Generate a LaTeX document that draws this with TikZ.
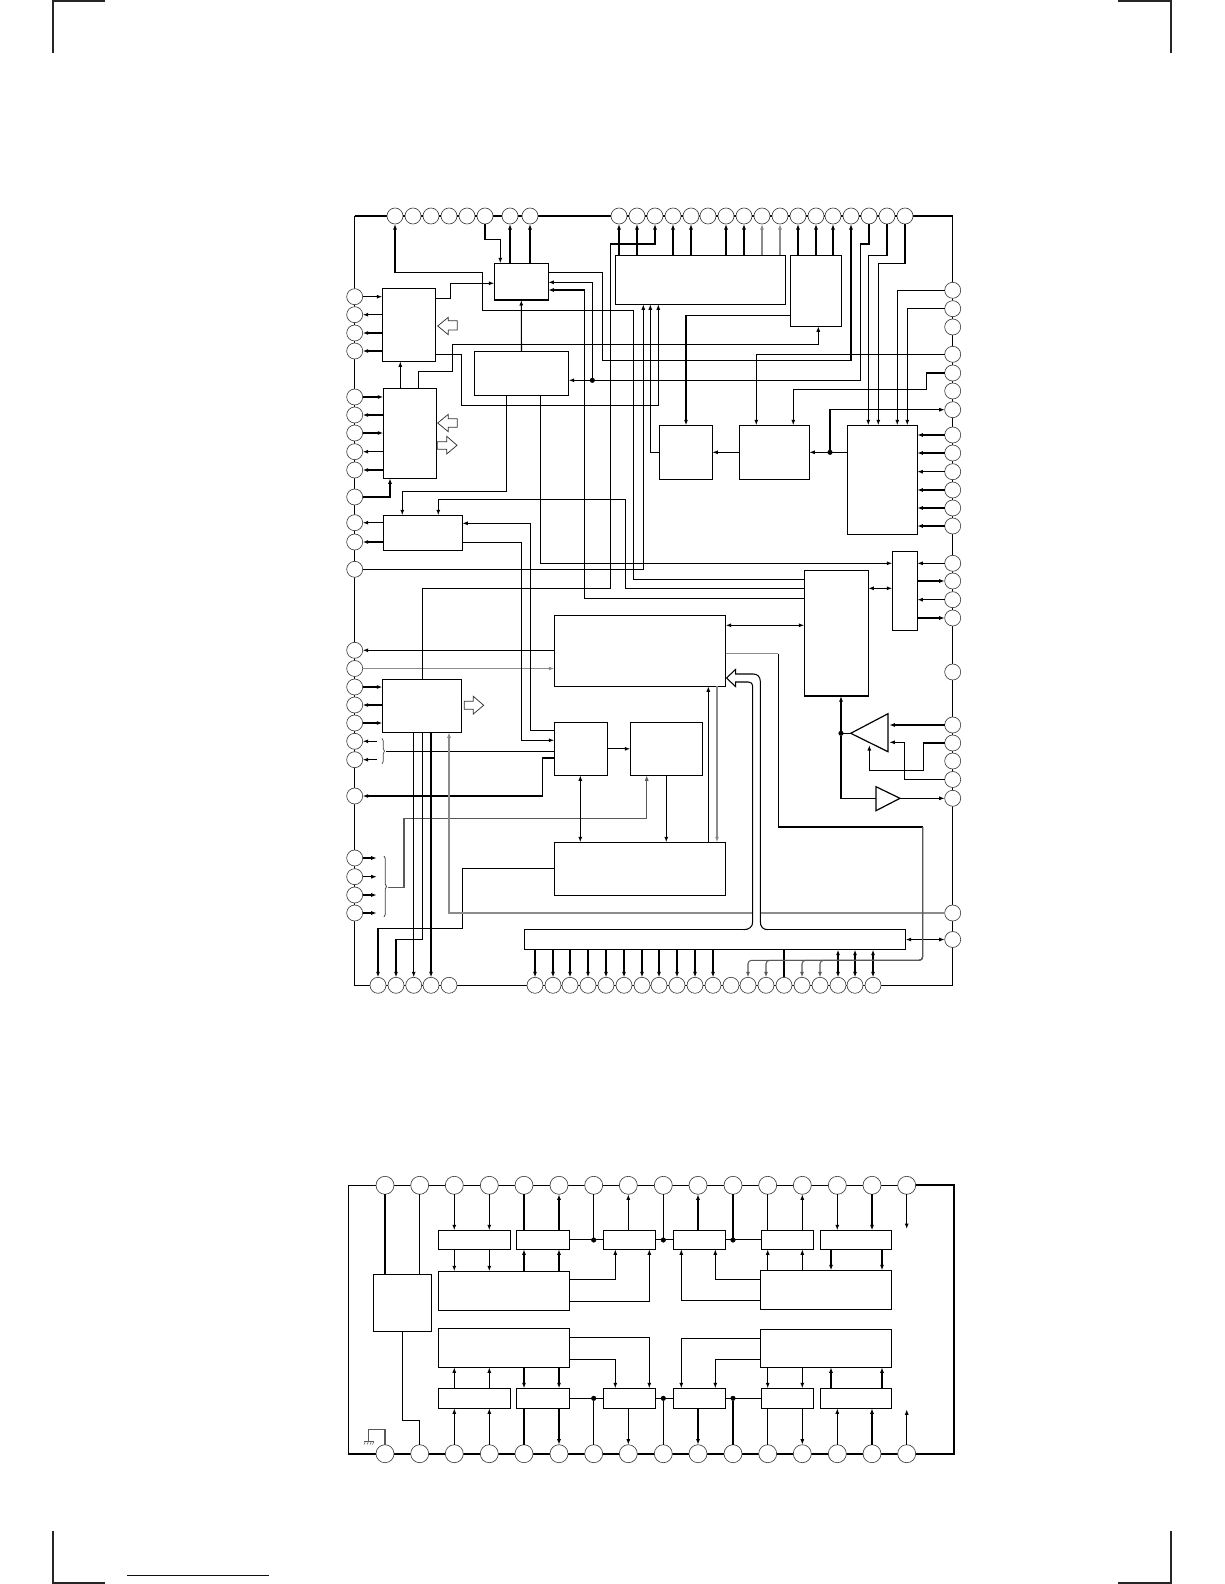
\documentclass[tikz,border=0pt]{standalone}
\usetikzlibrary{arrows.meta,fit,decorations.pathreplacing}
\definecolor{pagelink}{RGB}{0,0,130}
\tikzset{
    >={Latex[length=5.5pt,width=4pt]},
    wire/.style={line width=1.05pt,black},
    greywire/.style={line width=1.05pt,black!45},
    darkwire/.style={line width=1.05pt,black!65},
    blk/.style={draw,line width=1.05pt,inner sep=0pt,outer sep=0pt},
    pinc/.style={circle,draw=black!75,line width=0.65pt,fill=white,minimum size=16pt,inner sep=0pt,outer sep=0pt},
    pind/.style={circle,draw=black!75,line width=0.65pt,fill=white,minimum size=18pt,inner sep=0pt,outer sep=0pt},
    jdot/.style={circle,draw=black,fill=black,minimum size=4.6pt,inner sep=0pt,outer sep=0pt},
    hollow/.style={draw=black!80,line width=0.75pt,fill=white},
    cropline/.style={line width=1.7pt,black!85},
    bracket/.style={line width=0.7pt,black!75,decorate,decoration={brace,amplitude=2.5pt}}
}
\begin{document}
\begin{tikzpicture}[x=1pt,y=-1pt]
    \useasboundingbox (0,0) rectangle (1224,1584);
    \draw[cropline] (53.3,0) -- (53.3,53);
    \draw[cropline] (53.3,1) -- (105,1);
    \draw[cropline] (1170.7,0) -- (1170.7,53);
    \draw[cropline] (1118,1) -- (1170.7,1);
    \draw[cropline] (53.3,1531) -- (53.3,1584);
    \draw[cropline] (53.3,1583) -- (105,1583);
    \draw[cropline] (1170.7,1531) -- (1170.7,1584);
    \draw[cropline] (1118,1583) -- (1170.7,1583);
    \draw[pagelink,line width=0.8pt] (127,1575.3) -- (269,1575.3);

    \draw[line width=2pt] (354.7,215.7) -- (952.7,215.7);
    \draw[wire] (354.7,215.7) -- (354.7,985.3) -- (952.7,985.3) -- (952.7,215.7);
    \draw[line width=1.2pt] (906.7,1185.3) -- (348.3,1185.3) -- (348.3,1453.7);
    \draw[line width=2pt] (906.7,1185.3) -- (953.7,1185.3) -- (953.7,1453.7) -- (348.3,1453.7);

    \node[pinc] (t1) at (395,216) {}; \node[pinc] (t2) at (413,216) {}; \node[pinc] (t3) at (431,216) {};
    \node[pinc] (t4) at (449,216) {}; \node[pinc] (t5) at (467,216) {}; \node[pinc] (t6) at (485,216) {};
    \node[pinc] (t7) at (510,216) {}; \node[pinc] (t8) at (530,216) {}; \node[pinc] (t9) at (619,216) {};
    \node[pinc] (t10) at (637,216) {}; \node[pinc] (t11) at (655,216) {}; \node[pinc] (t12) at (673,216) {};
    \node[pinc] (t13) at (691,216) {}; \node[pinc] (t14) at (708,216) {}; \node[pinc] (t15) at (726,216) {};
    \node[pinc] (t16) at (744,216) {}; \node[pinc] (t17) at (762,216) {}; \node[pinc] (t18) at (780,216) {};
    \node[pinc] (t19) at (798,216) {}; \node[pinc] (t20) at (816,216) {}; \node[pinc] (t21) at (833,216) {};
    \node[pinc] (t22) at (851,216) {}; \node[pinc] (t23) at (869,216) {}; \node[pinc] (t24) at (887,216) {};
    \node[pinc] (t25) at (905,216) {};

    \node[pinc] (l1) at (354.7,296.7) {}; \node[pinc] (l2) at (354.7,314.7) {}; \node[pinc] (l3) at (354.7,333) {};
    \node[pinc] (l4) at (354.7,351) {}; \node[pinc] (l5) at (354.7,397) {}; \node[pinc] (l6) at (354.7,415) {};
    \node[pinc] (l7) at (354.7,433) {}; \node[pinc] (l8) at (354.7,451.7) {}; \node[pinc] (l9) at (354.7,470) {};
    \node[pinc] (l10) at (354.7,497) {}; \node[pinc] (l11) at (354.7,522.7) {}; \node[pinc] (l12) at (354.7,542) {};
    \node[pinc] (l13) at (354.7,569.3) {}; \node[pinc] (l14) at (354.7,650.3) {}; \node[pinc] (l15) at (354.7,668.5) {};
    \node[pinc] (l16) at (354.7,687) {}; \node[pinc] (l17) at (354.7,705) {}; \node[pinc] (l18) at (354.7,723) {};
    \node[pinc] (l19) at (354.7,741.3) {}; \node[pinc] (l20) at (354.7,759.7) {}; \node[pinc] (l21) at (354.7,796) {};
    \node[pinc] (l22) at (354.7,858) {}; \node[pinc] (l23) at (354.7,876.7) {}; \node[pinc] (l24) at (354.7,895) {};
    \node[pinc] (l25) at (354.7,913) {};

    \node[pinc] (r1) at (952.7,290.3) {}; \node[pinc] (r2) at (952.7,308.7) {}; \node[pinc] (r3) at (952.7,327) {};
    \node[pinc] (r4) at (952.7,354.3) {}; \node[pinc] (r5) at (952.7,373) {}; \node[pinc] (r6) at (952.7,391) {};
    \node[pinc] (r7) at (952.7,409.7) {}; \node[pinc] (r8) at (952.7,435) {}; \node[pinc] (r9) at (952.7,453) {};
    \node[pinc] (r10) at (952.7,471.7) {}; \node[pinc] (r11) at (952.7,490) {}; \node[pinc] (r12) at (952.7,508) {};
    \node[pinc] (r13) at (952.7,526) {}; \node[pinc] (r14) at (952.7,563.3) {}; \node[pinc] (r15) at (952.7,581) {};
    \node[pinc] (r16) at (952.7,599.7) {}; \node[pinc] (r17) at (952.7,618) {}; \node[pinc] (r18) at (952.7,672) {};
    \node[pinc] (r19) at (952.7,725) {}; \node[pinc] (r20) at (952.7,743) {}; \node[pinc] (r21) at (952.7,761) {};
    \node[pinc] (r22) at (952.7,779.5) {}; \node[pinc] (r23) at (952.7,798.3) {}; \node[pinc] (r24) at (952.7,913) {};
    \node[pinc] (r25) at (952.7,939.5) {};

    \node[pinc] (b1) at (378,985.3) {}; \node[pinc] (b2) at (396,985.3) {}; \node[pinc] (b3) at (413.7,985.3) {};
    \node[pinc] (b4) at (431,985.3) {}; \node[pinc] (b5) at (449,985.3) {}; \node[pinc] (b6) at (535,985.3) {};
    \node[pinc] (b7) at (553,985.3) {}; \node[pinc] (b8) at (570,985.3) {}; \node[pinc] (b9) at (588,985.3) {};
    \node[pinc] (b10) at (606,985.3) {}; \node[pinc] (b11) at (624,985.3) {}; \node[pinc] (b12) at (642,985.3) {};
    \node[pinc] (b13) at (659,985.3) {}; \node[pinc] (b14) at (677,985.3) {}; \node[pinc] (b15) at (695,985.3) {};
    \node[pinc] (b16) at (713,985.3) {}; \node[pinc] (b17) at (731,985.3) {}; \node[pinc] (b18) at (748,985.3) {};
    \node[pinc] (b19) at (766,985.3) {}; \node[pinc] (b20) at (784,985.3) {}; \node[pinc] (b21) at (802,985.3) {};
    \node[pinc] (b22) at (820,985.3) {}; \node[pinc] (b23) at (838,985.3) {}; \node[pinc] (b24) at (855,985.3) {};
    \node[pinc] (b25) at (873,985.3) {};

    \node[blk,fit={(382.3,288.3) (435.7,361.3)}] (blkA) {};
    \node[blk,fit={(383.3,388.3) (436.3,478.3)}] (blkB) {};
    \node[blk,fit={(494.3,263.3) (548.3,300)}] (blkC) {};
    \node[blk,fit={(474.3,351.3) (568.7,395.3)}] (blkD) {};
    \node[blk,fit={(615.3,255.3) (785.7,304.3)}] (blkE) {};
    \node[blk,fit={(790.3,255.3) (841.3,326.3)}] (blkF) {};
    \node[blk,fit={(659.3,425.3) (712.3,479.3)}] (blkG) {};
    \node[blk,fit={(739.3,425.3) (809.3,479.3)}] (blkH) {};
    \node[blk,fit={(847.3,425.3) (917.3,534.3)}] (blkI) {};
    \node[blk,fit={(383.3,515.3) (462.3,550.3)}] (blkJ) {};
    \node[blk,fit={(554.3,615.3) (725.7,686.3)}] (blkK) {};
    \node[blk,fit={(382.3,679.3) (461.3,732.3)}] (blkL) {};
    \node[blk,fit={(554.3,722.3) (607.7,775.3)}] (blkM) {};
    \node[blk,fit={(630.3,722.3) (702.3,775.3)}] (blkN) {};
    \node[blk,fit={(804.3,570.3) (868.3,696)}] (blkO) {};
    \node[blk,fit={(892.3,551.3) (917.3,630.3)}] (blkP) {};
    \node[blk,fit={(554.3,842.3) (725.7,895.3)}] (blkQ) {};
    \node[blk,fit={(524.3,929.7) (905.7,949.7)}] (blkR) {};

    \coordinate (ampA) at (850.7,733.3);
    \coordinate (ampB) at (876,798.3);
    \coordinate (ampC) at (900,798.3);
    \draw[wire,line width=1.2pt] (ampA) -- (888,713.7) -- (888,751.7) -- cycle;
    \draw[wire,line width=1.2pt] (876,786.7) -- (876,810.7) -- (ampC) -- cycle;

    \draw[hollow] (437.7,326) -- (448.3,317.3) -- (448.3,320.7) -- (457.3,320.7) -- (457.3,330) -- (448.3,330) -- (448.3,334.7) -- cycle;
    \draw[hollow] (437.7,423) -- (448.3,414.3) -- (448.3,418.7) -- (457.3,418.7) -- (457.3,427.3) -- (448.3,427.3) -- (448.3,431.7) -- cycle;
    \draw[hollow] (437.3,441.7) -- (446.7,441.7) -- (446.7,436.3) -- (457,445.3) -- (446.7,454) -- (446.7,449.3) -- (437.3,449.3) -- cycle;
    \draw[hollow] (464.3,701.3) -- (473.3,701.3) -- (473.3,696.3) -- (483.7,705.3) -- (473.3,714) -- (473.3,709.3) -- (464.3,709.3) -- cycle;

    \draw[wire,->] (l1) -- (l1 -| blkA.west);
    \draw[wire,->] (l2 -| blkA.west) -- (l2);
    \draw[wire,->] (l3 -| blkA.west) -- (l3);
    \draw[wire,->] (l4 -| blkA.west) -- (l4);
    \draw[wire,->] (l5) -- (l5 -| blkB.west);
    \draw[wire,->] (l6 -| blkB.west) -- (l6);
    \draw[wire,->] (l7) -- (l7 -| blkB.west);
    \draw[wire,->] (l8 -| blkB.west) -- (l8);
    \draw[wire,->] (l9 -| blkB.west) -- (l9);
    \draw[wire,->] (l10) -| (390,0 |- blkB.south);
    \draw[wire,->] (l11 -| blkJ.west) -- (l11);
    \draw[wire,->] (l12 -| blkJ.west) -- (l12);
    \draw[wire,->] (l14 -| blkK.west) -- (l14);
    \draw[greywire,->] (l15) -- (l15 -| blkK.west);
    \draw[wire,->] (l16) -- (l16 -| blkL.west);
    \draw[wire,->] (l17 -| blkL.west) -- (l17);
    \draw[wire,->] (l18) -- (l18 -| blkL.west);

    \coordinate (fa19) at (376.7,741.3);
    \coordinate (fa20) at (376.7,759.7);
    \coordinate (fa22) at (376.7,858);
    \coordinate (fa23) at (376.7,876.7);
    \coordinate (fa24) at (376.7,895);
    \coordinate (fa25) at (376.7,913);
    \coordinate (brA) at (385.8,751.3);
    \coordinate (brB) at (387.5,887.3);
    \draw[wire,->] (fa19) -- (l19);
    \draw[wire,->] (fa20) -- (l20);
    \draw[wire,->] (l22) -- (fa22);
    \draw[wire,->] (l23) -- (fa23);
    \draw[wire,->] (l24) -- (fa24);
    \draw[wire,->] (l25) -- (fa25);
    \draw[bracket] (382,738.3) -- (382,763.8);
    \draw[bracket] (384,856) -- (384,917);
    \draw[wire] (brA) -- (blkM.west |- brA);
    \draw[darkwire,->] (brB) -| (404,818.3) -| (646.7,0 |- blkN.south);

    \draw[wire,->] (t9 |- blkE.north) -- (t9);
    \draw[wire,->] (t10 |- blkE.north) -- (t10);
    \draw[wire,->] (t12 |- blkE.north) -- (t12);
    \draw[wire,->] (t13 |- blkE.north) -- (t13);
    \draw[wire,->] (t15 |- blkE.north) -- (t15);
    \draw[wire,->] (t16 |- blkE.north) -- (t16);
    \draw[greywire,->] (t17 |- blkE.north) -- (t17);
    \draw[greywire,->] (t18 |- blkE.north) -- (t18);
    \draw[wire,->] (t19 |- blkF.north) -- (t19);
    \draw[wire,->] (t20 |- blkF.north) -- (t20);
    \draw[wire,->] (t21 |- blkF.north) -- (t21);
    \draw[wire,->] (t7 |- blkC.north) -- (t7);
    \draw[wire,->] (t8 |- blkC.north) -- (t8);
    \draw[wire,->] (t6) |- (500.3,239.3) -- (500.3,0 |- blkC.north);
    \draw[wire,->] (422.3,0 |- blkL.north) |- (610.3,588.3) |- (t11 |- 0,244) -- (t11);
    \draw[wire,->] (blkO.west |- 0,579.3) -| (633.7,310.3) -| (482.7,272.3) -| (t1);
    \draw[wire,->] (blkC.east |- 0,272.3) -| (602.3,360.3) -| (t22);
    \node[jdot] (jD) at (592.3,380.3) {};
    \draw[wire,->] (t23) |- (860.7,244) |- (blkD.east |- jD);
    \draw[wire,->] (jD) |- (blkC.east |- 0,282.3);
    \draw[wire,->] (blkO.west |- 0,598.5) -| (584.7,290) -- (blkC.east |- 0,290);
    \draw[wire,->] (t24) |- (868.3,255.3) -- (868.3,0 |- blkI.north);
    \draw[wire,->] (t25) |- (878.3,263.3) -- (878.3,0 |- blkI.north);

    \draw[wire,->] (blkA.east |- 0,298.3) -| (450.3,283.3) -- (blkC.west |- 0,283.3);
    \draw[wire,->] (blkD.north) -- (blkC.south);
    \draw[wire,->] (400.3,0 |- blkB.north) -- (400.3,0 |- blkA.south);
    \draw[wire,->] (418.3,0 |- blkB.north) |- (452.3,371.7) |- (818.3,344.3) -- (818.3,0 |- blkF.south);
    \draw[wire,->] (blkA.east |- 0,354.3) -| (461.3,405.3) -| (658.3,0 |- blkE.south);
    \draw[wire,->] (blkG.west) -| (650.3,0 |- blkE.south);
    \draw[wire,->] (l13) -| (643.3,0 |- blkE.south);
    \draw[wire,->] (blkF.west |- 0,315.7) -| (686,0 |- blkG.north);
    \draw[wire,->] (r1) -| (897.3,0 |- blkI.north);
    \draw[wire,->] (r2) -| (907.3,0 |- blkI.north);
    \draw[wire,->] (r4) -| (756.3,0 |- blkH.north);
    \draw[wire,->] (r5) -| (926.3,389.3) -| (793.3,0 |- blkH.north);
    \draw[wire,->] (blkH.west) -- (blkG.east);
    \node[jdot] (jI) at (830,452.3) {};
    \draw[wire,->] (blkI.west |- jI) -- (blkH.east |- jI);
    \draw[wire,->] (jI) |- (r7);
    \draw[wire,->] (r8) -- (r8 -| blkI.east);
    \draw[wire,->] (r9) -- (r9 -| blkI.east);
    \draw[wire,->] (r10) -- (r10 -| blkI.east);
    \draw[wire,->] (r11) -- (r11 -| blkI.east);
    \draw[wire,->] (r12) -- (r12 -| blkI.east);
    \draw[wire,->] (r13) -- (r13 -| blkI.east);

    \draw[wire,->] (506.3,0 |- blkD.south) |- (402.3,491.3) -- (402.3,0 |- blkJ.north);
    \draw[wire,->] (540.3,0 |- blkD.south) |- (blkP.west |- r14);
    \draw[wire,->] (r14) -- (r14 -| blkP.east);
    \draw[wire,->] (r15 -| blkP.east) -- (r15);
    \draw[wire,->] (r16) -- (r16 -| blkP.east);
    \draw[wire,->] (r17 -| blkP.east) -- (r17);
    \draw[wire,->] (blkO.west |- 0,588.3) -| (625.3,499.3) -| (438.3,0 |- blkJ.north);
    \draw[wire,->] (blkM.west |- 0,730.3) -| (530.3,523.3) -- (blkJ.east |- 0,523.3);
    \draw[wire,->] (blkJ.east |- 0,542.3) -| (521.7,740.3) -- (blkM.west |- 0,740.3);
    \draw[wire,->] (blkM.west |- 0,758) -| (542.3,796) -- (l21);
    \draw[wire,->] (blkM.east) -- (blkN.west);
    \draw[wire,<->] (580.3,0 |- blkM.south) -- (580.3,0 |- blkQ.north);
    \draw[wire,->] (666.3,0 |- blkN.south) -- (666.3,0 |- blkQ.north);
    \draw[wire,->] (708.3,0 |- blkQ.north) -- (708.3,0 |- blkK.south);
    \draw[greywire,->] (717,0 |- blkK.south) -- (717,0 |- blkQ.north);
    \draw[wire,<->] (blkK.east |- 0,625.3) -- (blkO.west |- 0,625.3);
    \draw[wire,<->] (blkO.east |- 0,588.3) -- (blkP.west |- 0,588.3);

    \draw[wire,->] (b3 |- blkL.south) -- (b3);
    \draw[wire,->] (b4 |- blkL.south) -- (b4);
    \draw[wire,->] (422.3,0 |- blkL.south) |- (b2 |- 0,939.3) -- (b2);
    \draw[wire,->] (blkQ.west |- 0,868.3) -| (462.3,928.3) -| (b1);
    \draw[greywire,->] (r24) -| (449,0 |- blkL.south);

    \draw[wire,<->] (blkR.east |- r25) -- (r25);
    \draw[wire,->] (b6 |- blkR.south) -- (b6);
    \draw[wire,->] (b7 |- blkR.south) -- (b7);
    \draw[wire,->] (b8 |- blkR.south) -- (b8);
    \draw[wire,->] (b9 |- blkR.south) -- (b9);
    \draw[wire,->] (b10 |- blkR.south) -- (b10);
    \draw[wire,->] (b11 |- blkR.south) -- (b11);
    \draw[wire,->] (b12 |- blkR.south) -- (b12);
    \draw[wire,->] (b13 |- blkR.south) -- (b13);
    \draw[wire,->] (b14 |- blkR.south) -- (b14);
    \draw[wire,->] (b15 |- blkR.south) -- (b15);
    \draw[wire,->] (b16 |- blkR.south) -- (b16);
    \draw[wire] (b20 |- blkR.south) -- (b20);
    \draw[wire,<->] (b23 |- blkR.south) -- (b23);
    \draw[wire,<->] (b24 |- blkR.south) -- (b24);
    \draw[wire,<->] (b25 |- blkR.south) -- (b25);

    \coordinate (kcA) at (778.3,653.7);
    \coordinate (kcB) at (922.7,827);
    \draw[greywire] (blkK.east |- kcA) -- (kcA);
    \draw[wire] (kcA) |- (kcB);
    \draw[darkwire,->,rounded corners=3.5pt] (kcB) |- (b18 |- 0,960.3) -- (b18);
    \draw[darkwire,->,rounded corners=3.5pt] (kcB) |- (b19 |- 0,960.3) -- (b19);
    \draw[darkwire,->,rounded corners=3.5pt] (kcB) |- (b21 |- 0,960.3) -- (b21);
    \draw[darkwire,->,rounded corners=3.5pt] (kcB) |- (b22 |- 0,960.3) -- (b22);

    \draw[white,line width=2pt] (743.5,929.7) -- (768,929.7);
    \draw[wire,fill=white] (768.3,929.7) .. controls (763,929.7) and (760.3,927) .. (760.3,921.3) -- (760.3,681.3) .. controls (760.3,677) and (757.5,674) .. (753.3,674) -- (735.7,674) -- (735.7,669.3) -- (726.5,678) -- (735.7,686.7) -- (735.7,682) -- (748.3,682) .. controls (751,682) and (752.7,683.5) .. (752.7,686) -- (752.7,921.7) .. controls (752.7,927) and (749,929.7) .. (743.3,929.7);

    \draw[wire] (ampA) -- (841,733.3);
    \node[jdot] (jA) at (841,733.3) {};
    \draw[wire,->] (jA) -- (841,0 |- blkO.south);
    \draw[wire] (jA) |- (ampB);
    \draw[wire,->] (ampC) -- (r23);
    \draw[wire,->] (r19) -- (889.3,0 |- r19);
    \draw[wire,->] (r20) -| (923.7,770.3) -| (869.3,745);
    \draw[wire,->] (r22) -| (904.7,742.3) -- (889.3,742.3);

    \node[pind] (ut1) at (385,1185.3) {}; \node[pind] (ut2) at (419.7,1185.3) {}; \node[pind] (ut3) at (454.3,1185.3) {};
    \node[pind] (ut4) at (489.3,1185.3) {}; \node[pind] (ut5) at (524,1185.3) {}; \node[pind] (ut6) at (559,1185.3) {};
    \node[pind] (ut7) at (593.7,1185.3) {}; \node[pind] (ut8) at (628.3,1185.3) {}; \node[pind] (ut9) at (663.3,1185.3) {};
    \node[pind] (ut10) at (698,1185.3) {}; \node[pind] (ut11) at (733,1185.3) {}; \node[pind] (ut12) at (767.7,1185.3) {};
    \node[pind] (ut13) at (802.3,1185.3) {}; \node[pind] (ut14) at (837.3,1185.3) {}; \node[pind] (ut15) at (872,1185.3) {};
    \node[pind] (ut16) at (906.7,1185.3) {};

    \node[pind] (ud1) at (385,1453.7) {}; \node[pind] (ud2) at (419.7,1453.7) {}; \node[pind] (ud3) at (454.3,1453.7) {};
    \node[pind] (ud4) at (489.3,1453.7) {}; \node[pind] (ud5) at (524,1453.7) {}; \node[pind] (ud6) at (559,1453.7) {};
    \node[pind] (ud7) at (593.7,1453.7) {}; \node[pind] (ud8) at (628.3,1453.7) {}; \node[pind] (ud9) at (663.3,1453.7) {};
    \node[pind] (ud10) at (698,1453.7) {}; \node[pind] (ud11) at (733,1453.7) {}; \node[pind] (ud12) at (767.7,1453.7) {};
    \node[pind] (ud13) at (802.3,1453.7) {}; \node[pind] (ud14) at (837.3,1453.7) {}; \node[pind] (ud15) at (872,1453.7) {};
    \node[pind] (ud16) at (906.7,1453.7) {};

    \node[blk,fit={(373.3,1274.3) (431.3,1331.3)}] (upow) {};
    \node[blk,fit={(438.3,1230.3) (510.3,1249.3)}] (ua1) {};
    \node[blk,fit={(516.3,1230.3) (569.3,1249.3)}] (ua2) {};
    \node[blk,fit={(603.3,1230.3) (655.3,1249.3)}] (ua3) {};
    \node[blk,fit={(673.3,1230.3) (725.3,1249.3)}] (ua4) {};
    \node[blk,fit={(761.3,1230.3) (813.3,1249.3)}] (ua5) {};
    \node[blk,fit={(820.3,1230.3) (891.3,1249.3)}] (ua6) {};
    \node[blk,fit={(438.3,1388.3) (510.3,1408.3)}] (ub1) {};
    \node[blk,fit={(516.3,1388.3) (569.3,1408.3)}] (ub2) {};
    \node[blk,fit={(603.3,1388.3) (655.3,1408.3)}] (ub3) {};
    \node[blk,fit={(673.3,1388.3) (725.3,1408.3)}] (ub4) {};
    \node[blk,fit={(761.3,1388.3) (813.3,1408.3)}] (ub5) {};
    \node[blk,fit={(820.3,1388.3) (891.3,1408.3)}] (ub6) {};
    \node[blk,fit={(438.3,1271.3) (569.3,1310.3)}] (ucl) {};
    \node[blk,fit={(760.3,1270.3) (891.3,1309.3)}] (ucr) {};
    \node[blk,fit={(438.3,1328.3) (569.3,1367.3)}] (udl) {};
    \node[blk,fit={(760.3,1329.3) (891.3,1367.3)}] (udr) {};

    \draw[wire] (ut1) -- (ut1 |- upow.north);
    \draw[wire] (ut2) -- (ut2 |- upow.north);
    \draw[wire] (upow.south) |- (ud2 |- 0,1420.3) -- (ud2);
    \coordinate (gndp) at (368.3,1441);
    \draw[darkwire] (ud1) |- (368.3,1429.3) -- (gndp);
    \draw[darkwire,line width=0.7pt] (364,1441.5) -- (374,1441.5);
    \draw[darkwire,line width=0.6pt] (365.5,1441.5) -- (364,1444.5);
    \draw[darkwire,line width=0.6pt] (368.5,1441.5) -- (367,1444.5);
    \draw[darkwire,line width=0.6pt] (371.5,1441.5) -- (370,1444.5);
    \draw[darkwire,line width=0.6pt] (374,1441.5) -- (372.5,1444.5);

    \draw[wire,->] (ut3) -- (ut3 |- ua1.north);
    \draw[wire,->] (ut4) -- (ut4 |- ua1.north);
    \draw[wire,->] (ut3 |- ua1.south) -- (ut3 |- ucl.north);
    \draw[wire,->] (ut4 |- ua1.south) -- (ut4 |- ucl.north);
    \draw[wire] (ut5) -- (ut5 |- ua2.north);
    \draw[wire,->] (ut6 |- ua2.north) -- (ut6);
    \draw[wire,->] (ut5 |- ucl.north) -- (ut5 |- ua2.south);
    \draw[wire,->] (ut6 |- ucl.north) -- (ut6 |- ua2.south);
    \draw[wire] (ua2.east) -- (ua3.west);
    \node[jdot] (ja1) at (593.7,1240) {};
    \draw[wire] (ut7) -- (ja1);
    \draw[wire,->] (ut8 |- ua3.north) -- (ut8);
    \draw[wire,->] (ucl.east |- 0,1279.3) -| (615.3,0 |- ua3.south);
    \draw[wire,->] (ucl.east |- 0,1301.3) -| (649.3,0 |- ua3.south);
    \draw[wire] (ua3.east) -- (ua4.west);
    \node[jdot] (ja2) at (663.3,1240) {};
    \draw[wire] (ut9) -- (ja2);
    \draw[wire,->] (ut10 |- ua4.north) -- (ut10);
    \draw[wire] (ua4.east) -- (ua5.west);
    \node[jdot] (ja3) at (733,1240) {};
    \draw[wire] (ut11) -- (ja3);
    \draw[wire] (ut12) -- (ut12 |- ua5.north);
    \draw[wire,->] (ut13 |- ua5.north) -- (ut13);
    \draw[wire,->] (ut12 |- ucr.north) -- (ut12 |- ua5.south);
    \draw[wire,->] (ut13 |- ucr.north) -- (ut13 |- ua5.south);
    \draw[wire,->] (ut14) -- (ut14 |- ua6.north);
    \draw[wire,->] (ut15) -- (ut15 |- ua6.north);
    \draw[wire,->] (831,0 |- ua6.south) -- (831,0 |- ucr.north);
    \draw[wire,->] (882,0 |- ua6.south) -- (882,0 |- ucr.north);
    \coordinate (ufa) at (906.7,1229);
    \draw[wire,->] (ut16) -- (ufa);
    \draw[wire,->] (ucr.west |- 0,1279.3) -| (715.3,0 |- ua4.south);
    \draw[wire,->] (ucr.west |- 0,1300.3) -| (681.3,0 |- ua4.south);

    \draw[wire,->] (ud3) -- (ud3 |- ub1.south);
    \draw[wire,->] (ud4) -- (ud4 |- ub1.south);
    \draw[wire,->] (ud3 |- ub1.north) -- (ud3 |- udl.south);
    \draw[wire,->] (ud4 |- ub1.north) -- (ud4 |- udl.south);
    \draw[wire,->] (ud5 |- udl.south) -- (ud5 |- ub2.north);
    \draw[wire,->] (ud6 |- udl.south) -- (ud6 |- ub2.north);
    \draw[wire] (ud5 |- ub2.south) -- (ud5);
    \draw[wire,->] (ud6 |- ub2.south) -- (ud6);
    \draw[wire] (ub2.east) -- (ub3.west);
    \node[jdot] (jb1) at (593.7,1398.3) {};
    \draw[wire] (ud7) -- (jb1);
    \draw[wire,->] (ud8 |- ub3.south) -- (ud8);
    \draw[wire,->] (udl.east |- 0,1337.3) -| (649.3,0 |- ub3.north);
    \draw[wire,->] (udl.east |- 0,1359.3) -| (615.3,0 |- ub3.north);
    \draw[wire] (ub3.east) -- (ub4.west);
    \node[jdot] (jb2) at (663.3,1398.3) {};
    \draw[wire] (ud9) -- (jb2);
    \draw[wire,->] (ud10 |- ub4.south) -- (ud10);
    \draw[wire] (ub4.east) -- (ub5.west);
    \node[jdot] (jb3) at (733,1398.3) {};
    \draw[wire] (ud11) -- (jb3);
    \draw[wire] (ud12 |- ub5.south) -- (ud12);
    \draw[wire,->] (ud13 |- ub5.south) -- (ud13);
    \draw[wire,->] (ud12 |- udr.south) -- (ud12 |- ub5.north);
    \draw[wire,->] (ud13 |- udr.south) -- (ud13 |- ub5.north);
    \draw[wire,->] (ud14) -- (ud14 |- ub6.south);
    \draw[wire,->] (ud15) -- (ud15 |- ub6.south);
    \draw[wire,->] (831,0 |- ub6.north) -- (831,0 |- udr.south);
    \draw[wire,->] (882,0 |- ub6.north) -- (882,0 |- udr.south);
    \coordinate (ufb) at (906.7,1409.3);
    \draw[wire,->] (ud16) -- (ufb);
    \draw[wire,->] (udr.west |- 0,1338.3) -| (681.3,0 |- ub4.north);
    \draw[wire,->] (udr.west |- 0,1359.3) -| (715.3,0 |- ub4.north);
\end{tikzpicture}
\end{document}
